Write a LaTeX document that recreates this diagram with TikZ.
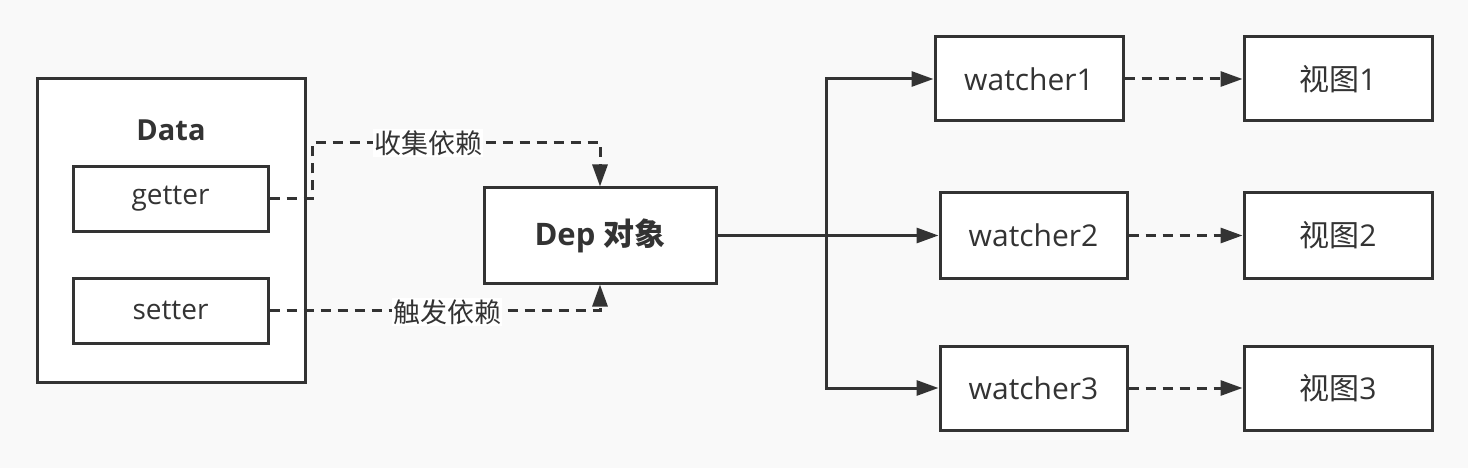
\documentclass[tikz,border=0pt]{standalone}
\usepackage{fontspec}
\setmainfont{Open Sans}
\newfontfamily\cjk{Noto Sans CJK SC}
\usetikzlibrary{arrows.meta,calc}
\definecolor{ink}{HTML}{333333}
\definecolor{bg}{HTML}{F9F9F9}
\tikzset{
  box/.style={draw=ink,line width=3pt,fill=white,text=ink,inner sep=0pt,font=\fontsize{30}{36}\selectfont},
  conn/.style={draw=ink,line width=3pt,-{Triangle[length=22pt,width=15pt]}},
  dconn/.style={conn,dash pattern=on 10pt off 7pt},
  lbl/.style={fill=white,text=ink,inner sep=1pt,font=\cjk\fontsize{27}{32}\selectfont},
}
\begin{document}
\begin{tikzpicture}[x=1pt,y=-1pt]
\useasboundingbox (0,0) rectangle (1468,468);
\fill[bg] (0,0) rectangle (1468,468);
\node[box,minimum width=268pt,minimum height=303pt] (data) at (171,230.5) {};
\node[text=ink,font=\bfseries\fontsize{29}{34}\selectfont] (datalbl) at (171,130) {Data};
\node[box,minimum width=195pt,minimum height=64pt,font=\fontsize{28}{33}\selectfont] (getter) at (170.5,199) {getter};
\node[box,minimum width=195pt,minimum height=65pt,font=\fontsize{28}{33}\selectfont] (setter) at (170.5,310.5) {setter};
\node[box,minimum width=232pt,minimum height=95pt,font=\bfseries\fontsize{31}{36}\selectfont] (dep) at (600,235.5) {Dep {\cjk\bfseries 对象}};
\node[box,minimum width=188pt,minimum height=84pt] (w1) at (1029,79) {watcher1};
\node[box,minimum width=187pt,minimum height=85pt] (w2) at (1033.5,235.5) {watcher2};
\node[box,minimum width=187pt,minimum height=84pt] (w3) at (1033.5,388) {watcher3};
\node[box,minimum width=188pt,minimum height=84pt] (v1) at (1338,79) {{\cjk 视图}1};
\node[box,minimum width=188pt,minimum height=85pt] (v2) at (1338,235.5) {{\cjk 视图}2};
\node[box,minimum width=188pt,minimum height=84pt] (v3) at (1338,388) {{\cjk 视图}3};
\coordinate (g1) at (312,143);
\coordinate (trunk) at (826,235.5);
\draw[dconn] (getter.east) -| (g1) -| (dep.north);
\draw[dconn] (setter.east) -| (dep.south);
\node[lbl] (l1) at (428,143) {收集依赖};
\node[lbl] (l2) at (447,312) {触发依赖};
\draw[draw=ink,line width=3pt] (dep.east) -- (trunk);
\draw[conn] (trunk) |- (w1.west);
\draw[conn] (trunk) -- (w2.west);
\draw[conn] (trunk) |- (w3.west);
\draw[dconn] (w1.east) -- (v1.west);
\draw[dconn] (w2.east) -- (v2.west);
\draw[dconn] (w3.east) -- (v3.west);
\end{tikzpicture}
\end{document}
